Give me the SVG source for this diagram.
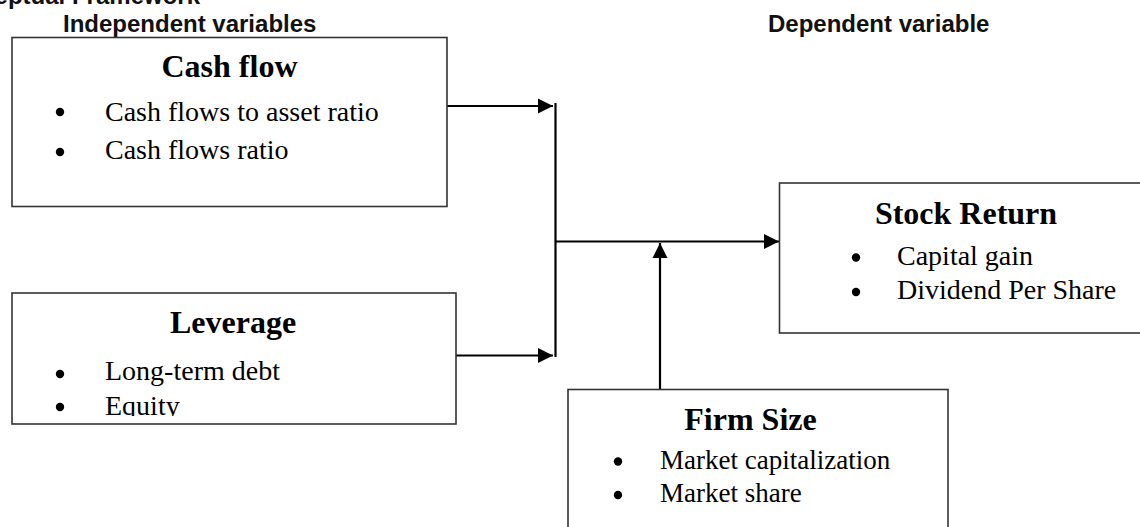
<svg xmlns="http://www.w3.org/2000/svg" width="1140" height="527" viewBox="0 0 1140 527">
  <style>
    .box { fill: #ffffff; stroke: #333333; stroke-width: 1.6; }
    .hdr { font-family: "Liberation Sans", Arial, sans-serif; font-weight: bold; font-size: 24px; fill: #111111; }
    .ttl { font-family: "Liberation Serif", "Times New Roman", serif; font-weight: bold; font-size: 32px; fill: #000000; text-anchor: middle; }
    .itm { font-family: "Liberation Serif", "Times New Roman", serif; font-size: 28px; fill: #000000; }
    .itm2 { font-family: "Liberation Serif", "Times New Roman", serif; font-size: 27px; fill: #000000; }
    .dot { fill: #000000; }
    .con { stroke: #000000; stroke-width: 2.2; fill: none; }
  </style>
  <defs>
    <marker id="arr" markerUnits="userSpaceOnUse" markerWidth="16" markerHeight="16" viewBox="0 0 16 16" refX="15" refY="8" orient="auto">
      <path d="M0,0.5 L15,8 L0,15.5 Z" fill="#000000"/>
    </marker>
    <clipPath id="levClip">
      <rect x="12" y="293" width="444" height="123"/>
    </clipPath>
  </defs>
  <rect width="1140" height="527" fill="#ffffff"/>

  <text class="hdr" x="200" y="4" text-anchor="end">Conceptual Framework</text>
  <text class="hdr" x="63" y="32">Independent variables</text>
  <text class="hdr" x="768" y="32">Dependent variable</text>

  <g id="connectors">
    <line class="con" x1="447" y1="106" x2="553" y2="106" marker-end="url(#arr)"/>
    <line class="con" x1="456" y1="355.5" x2="553" y2="355.5" marker-end="url(#arr)"/>
    <line class="con" x1="555.5" y1="103" x2="555.5" y2="357"/>
    <line class="con" x1="555.5" y1="241.5" x2="779" y2="241.5" marker-end="url(#arr)"/>
    <line class="con" x1="660" y1="389" x2="660" y2="243" marker-end="url(#arr)"/>
  </g>

  <g id="cash-flow">
    <rect class="box" x="12" y="37.5" width="435" height="169"/>
    <text class="ttl" x="229.5" y="77">Cash flow</text>
    <circle class="dot" cx="60" cy="112" r="4.2"/>
    <text class="itm" x="105" y="120.5">Cash flows to asset ratio</text>
    <circle class="dot" cx="60" cy="152" r="4.2"/>
    <text class="itm" x="105" y="159">Cash flows ratio</text>
  </g>

  <g id="leverage">
    <rect class="box" x="12" y="293" width="444" height="131"/>
    <text class="ttl" x="233" y="333">Leverage</text>
    <circle class="dot" cx="60" cy="374" r="4.2"/>
    <text class="itm" x="105" y="380">Long-term debt</text>
    <circle class="dot" cx="60" cy="407" r="4.2"/>
    <text class="itm" x="105" y="415" clip-path="url(#levClip)">Equity</text>
  </g>

  <g id="stock-return">
    <rect class="box" x="779.5" y="183" width="380" height="150"/>
    <text class="ttl" x="966" y="224">Stock Return</text>
    <circle class="dot" cx="856" cy="257.5" r="4.2"/>
    <text class="itm" x="897" y="264.5">Capital gain</text>
    <circle class="dot" cx="856" cy="292" r="4.2"/>
    <text class="itm" x="897" y="298.5">Dividend Per Share</text>
  </g>

  <g id="firm-size">
    <rect class="box" x="568" y="389.5" width="380" height="160"/>
    <text class="ttl" x="750.5" y="430">Firm Size</text>
    <circle class="dot" cx="618" cy="461.5" r="4.2"/>
    <text class="itm2" x="660" y="468.5">Market capitalization</text>
    <circle class="dot" cx="618" cy="495" r="4.2"/>
    <text class="itm2" x="660" y="501.5">Market share</text>
  </g>
</svg>
